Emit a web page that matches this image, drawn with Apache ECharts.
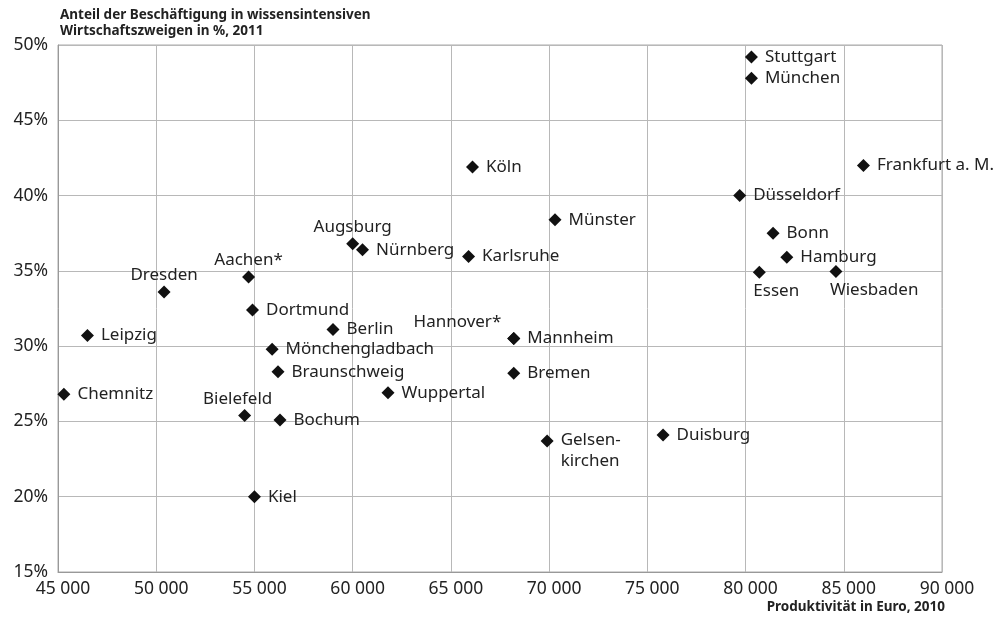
<!DOCTYPE html>
<html>
<head>
<meta charset="utf-8">
<script src="https://cdn.jsdelivr.net/npm/echarts@6/dist/echarts.min.js"></script>
<style>
html,body{margin:0;padding:0;background:#fff;}
#chart{width:1002px;height:620px;}
</style>
</head>
<body>
<div id="chart"></div>
<script>
// ---- Data ----
const cities = ["Stuttgart","München","Frankfurt a. M.","Düsseldorf","Bonn","Hamburg","Essen","Wiesbaden",
  "Köln","Münster","Karlsruhe","Augsburg","Nürnberg","Hannover*","Mannheim","Bremen","Wuppertal","Berlin",
  "Gelsenkirchen","Duisburg","Kiel","Bochum","Bielefeld","Chemnitz","Leipzig","Dresden","Aachen*",
  "Dortmund","Mönchengladbach","Braunschweig"];
const productivity = [80300,80300,86000,79700,81400,82100,80700,84600,
  66100,70300,65900,60000,60500,68200,68200,68200,61800,59000,
  69900,75800,55000,56300,54500,45300,46500,50400,54700,
  54900,55900,56200];
const knowledgeShare = [49.2,47.8,42.0,40.0,37.5,35.9,34.9,34.95,
  41.9,38.4,35.95,36.8,36.4,30.5,30.5,28.2,26.9,31.1,
  23.7,24.1,20.0,25.1,25.4,26.8,30.7,33.6,34.6,
  32.4,29.8,28.3];
const xTicks = {min:45000, max:90000, step:5000};
const yTicks = {min:15, max:50, step:5};
const titleY = ["Anteil der Beschäftigung in wissensintensiven", "Wirtschaftszweigen in %, 2011"];
const titleX = "Produktivität in Euro, 2010";
const displayText = {"Gelsenkirchen": "Gelsen-\nkirchen"};

// ---- Label placement (style) ----
const labelCfg = {
  "Augsburg": {position:'top', distance:2},
  "Dresden": {position:'top', distance:2},
  "Aachen*": {position:'top', distance:2},
  "Bielefeld": {position:'top', distance:1, offset:[-7,0]},
  "Hannover*": {position:'left', distance:6, offset:[0,-16]},
  "Essen": {position:'bottom', align:'left', distance:4, offset:[-6,0]},
  "Wiesbaden": {position:'bottom', align:'left', distance:4, offset:[-6,0]},
  "Gelsenkirchen": {position:'right', distance:7, offset:[0,10], lineHeight:21}
};

const data = cities.map((c,i)=>{
  const d = {name:c, value:[productivity[i], knowledgeShare[i]]};
  if (labelCfg[c]) d.label = labelCfg[c];
  return d;
});

const FONT = "Noto Sans";
const chart = echarts.init(document.getElementById('chart'), null, {renderer:'canvas'});
chart.setOption({
  animation:false,
  textStyle:{fontFamily:FONT},
  grid:{left:58, right:60, top:45, bottom:48, show:true, borderColor:'#aaa', borderWidth:1},
  xAxis:{
    type:'value', min:xTicks.min, max:xTicks.max, interval:xTicks.step,
    axisLine:{show:true, lineStyle:{color:'#999'}},
    axisTick:{show:false},
    splitLine:{show:true, lineStyle:{color:'#b8b8b8', width:1}},
    axisLabel:{color:'#222', fontSize:17.5, fontFamily:FONT, margin:8, padding:[0,0,0,10],
      formatter:v=>{ const s=String(v); return s.slice(0,s.length-3)+' '+s.slice(-3); }}
  },
  yAxis:{
    type:'value', min:yTicks.min, max:yTicks.max, interval:yTicks.step,
    axisLine:{show:true, lineStyle:{color:'#999'}},
    axisTick:{show:false},
    splitLine:{show:true, lineStyle:{color:'#b8b8b8', width:1}},
    axisLabel:{color:'#222', fontSize:17.5, fontFamily:FONT, margin:10, formatter:v=>v+'%'}
  },
  graphic:[
    {type:'text', left:60, top:7, style:{text:titleY.join('\n'), font:'bold 13.5px "Noto Sans"', fill:'#222', lineHeight:16}},
    {type:'text', right:57, top:600, style:{text:titleX, font:'bold 13.5px "Noto Sans"', fill:'#222'}}
  ],
  series:[{
    type:'scatter',
    symbol:'diamond',
    symbolSize:13,
    itemStyle:{color:'#111', opacity:1},
    label:{show:true, position:'right', distance:7, color:'#222', fontSize:17, fontFamily:FONT,
      formatter:p=> displayText[p.name] || p.name},
    data:data
  }]
});
</script>
</body>
</html>
